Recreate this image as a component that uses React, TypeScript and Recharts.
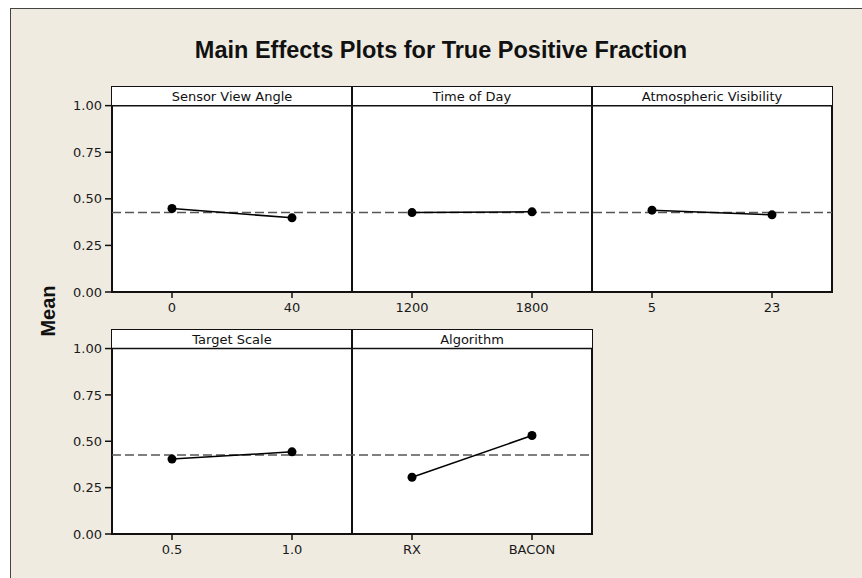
import { LineChart, Line, XAxis, YAxis, ReferenceLine, ReferenceArea } from 'recharts';

// factor levels and the mean response at each level
const sensorAngleLevels = ['0', '40'];
const sensorAngleMeans = [0.448, 0.398];

const timeOfDayLevels = ['1200', '1800'];
const timeOfDayMeans = [0.426, 0.43];

const visibilityLevels = ['5', '23'];
const visibilityMeans = [0.439, 0.414];

const targetScaleLevels = ['0.5', '1.0'];
const targetScaleMeans = [0.404, 0.443];

const algorithmLevels = ['RX', 'BACON'];
const algorithmMeans = [0.306, 0.531];

const grandMean = 0.426;
const meanTicks = [0, 0.25, 0.5, 0.75, 1.0];

interface Factor {
  name: string;
  levels: string[];
  means: number[];
}

const topRow: Factor[] = [
  { name: 'Sensor View Angle', levels: sensorAngleLevels, means: sensorAngleMeans },
  { name: 'Time of Day', levels: timeOfDayLevels, means: timeOfDayMeans },
  { name: 'Atmospheric Visibility', levels: visibilityLevels, means: visibilityMeans },
];

const bottomRow: Factor[] = [
  { name: 'Target Scale', levels: targetScaleLevels, means: targetScaleMeans },
  { name: 'Algorithm', levels: algorithmLevels, means: algorithmMeans },
];

const TICK_FONT = { fontSize: 13, fontFamily: 'DejaVu Sans', fill: '#1a1a1a' };

// each factor gets two x-units; its levels sit at +0.5 and +1.5
function PanelRow({ factors, width, height, margin }: {
  factors: Factor[];
  width: number;
  height: number;
  margin: { top: number; right: number; bottom: number; left: number };
}) {
  const span = factors.length * 2;
  const ticks: number[] = [];
  const tickLabels: Record<string, string> = {};
  factors.forEach((f, i) =>
    f.levels.forEach((lvl, j) => {
      const x = i * 2 + 0.5 + j;
      ticks.push(x);
      tickLabels[String(x)] = lvl;
    })
  );

  return (
    <LineChart width={width} height={height} margin={margin}>
      <XAxis
        type="number"
        dataKey="x"
        domain={[0, span]}
        ticks={ticks}
        interval={0}
        tickFormatter={(v) => tickLabels[String(v)] ?? ''}
        axisLine={false}
        tickLine={{ stroke: '#111', strokeWidth: 1.5 }}
        tickSize={6}
        tickMargin={5}
        height={30}
        tick={TICK_FONT}
      />
      <YAxis
        type="number"
        domain={[0, 1.1]}
        ticks={meanTicks}
        interval={0}
        tickFormatter={(v) => v.toFixed(2)}
        axisLine={false}
        tickLine={{ stroke: '#111', strokeWidth: 1.5 }}
        tickSize={7}
        tickMargin={3}
        width={60}
        tick={TICK_FONT}
      />
      <ReferenceArea x1={0} x2={span} y1={0} y2={1.1} fill="#ffffff" fillOpacity={1} stroke="#111" strokeWidth={2} />
      {factors.map((f, i) => (
        <ReferenceArea
          key={'strip-' + f.name}
          x1={i * 2}
          x2={i * 2 + 2}
          y1={1}
          y2={1.1}
          fill="#ffffff"
          fillOpacity={1}
          stroke="none"
          label={{ value: f.name, position: 'center', fontSize: 13, fontFamily: 'DejaVu Sans', fill: '#111' }}
        />
      ))}
      <ReferenceLine y={1} stroke="#111" strokeWidth={1.5} />
      {factors.slice(1).map((f, i) => (
        <ReferenceLine key={'div-' + f.name} x={(i + 1) * 2} stroke="#111" strokeWidth={2} />
      ))}
      <ReferenceLine y={grandMean} stroke="#555" strokeWidth={1.5} strokeDasharray="9 4" />
      {factors.map((f, i) => (
        <Line
          key={f.name}
          data={f.means.map((m, j) => ({ x: i * 2 + 0.5 + j, y: m }))}
          dataKey="y"
          stroke="#000"
          strokeWidth={1.5}
          dot={{ r: 4.5, fill: '#000', stroke: '#000', strokeWidth: 0 }}
          isAnimationActive={false}
        />
      ))}
    </LineChart>
  );
}

export default function App() {
  return (
    <div style={{ position: 'absolute', left: 0, top: 0, width: 862, height: 578, background: '#fff', overflow: 'hidden' }}>
      <div
        style={{
          position: 'absolute',
          left: 10,
          top: 8,
          width: 852,
          height: 570,
          background: '#efebe1',
          borderTop: '1px solid #444',
          borderLeft: '1px solid #444',
        }}
      />
      <div
        style={{
          position: 'absolute',
          left: 0,
          width: 882,
          top: 36,
          textAlign: 'center',
          fontFamily: 'Liberation Sans, Arial, sans-serif',
          fontWeight: 'bold',
          fontSize: 23.5,
          color: '#111',
          lineHeight: '29px',
        }}
      >
        Main Effects Plots for True Positive Fraction
      </div>
      <div
        style={{
          position: 'absolute',
          left: 48,
          top: 311,
          transform: 'translate(-50%, -50%) rotate(-90deg)',
          fontFamily: 'Liberation Sans, Arial, sans-serif',
          fontWeight: 'bold',
          fontSize: 20,
          color: '#111',
          whiteSpace: 'nowrap',
        }}
      >
        Mean
      </div>
      <div style={{ position: 'absolute', left: 0, top: 0 }}>
        <PanelRow factors={topRow} width={862} height={330} margin={{ top: 87, right: 30, bottom: 8, left: 52 }} />
      </div>
      <div style={{ position: 'absolute', left: 0, top: 300 }}>
        <PanelRow factors={bottomRow} width={862} height={278} margin={{ top: 30, right: 270, bottom: 14, left: 52 }} />
      </div>
    </div>
  );
}
